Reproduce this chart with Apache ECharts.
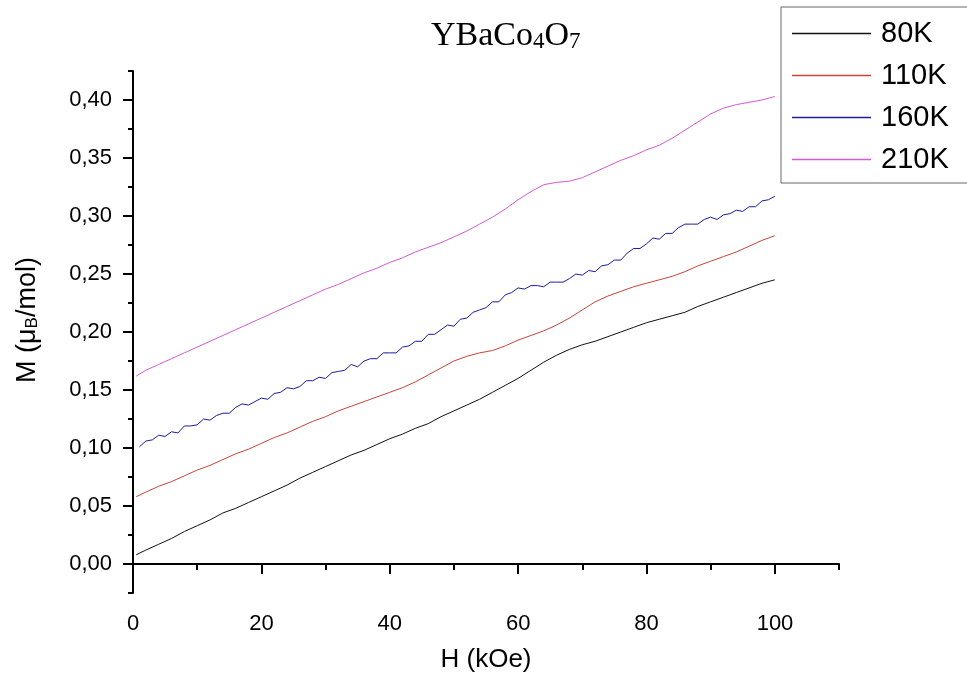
<!DOCTYPE html>
<html><head><meta charset="utf-8">
<script src="https://cdn.jsdelivr.net/npm/echarts@6/dist/echarts.min.js"></script>
<style>html,body{margin:0;padding:0;background:#fff}#c{width:967px;height:681px}</style>
</head><body><div id="c"></div>
<script>
// Field H (kOe) for the smooth curves
const H_SMOOTH = [0.5,2,4,6,8,10,12,14,16,18,20,22,24,26,28,30,32,34,36,38,40,42,44,46,48,50,52,54,56,58,60,62,64,66,68,70,72,74,76,78,80,82,84,86,88,90,92,94,96,98,100];
// Field H (kOe) for the noisy 160K curve
const H_160 = [1,2,3,4,5,6,7,8,9,10,11,12,13,14,15,16,17,18,19,20,21,22,23,24,25,26,27,28,29,30,31,32,33,34,35,36,37,38,39,40,41,42,43,44,45,46,47,48,49,50,51,52,53,54,55,56,57,58,59,60,61,62,63,64,65,66,67,68,69,70,71,72,73,74,75,76,77,78,79,80,81,82,83,84,85,86,87,88,89,90,91,92,93,94,95,96,97,98,99,100];

const M_80K = [0.008,0.012,0.017,0.022,0.028,0.033,0.038,0.044,0.048,0.053,0.058,0.063,0.068,0.074,0.079,0.084,0.089,0.094,0.098,0.103,0.108,0.112,0.117,0.121,0.127,0.132,0.137,0.142,0.148,0.154,0.160,0.167,0.174,0.180,0.185,0.189,0.192,0.196,0.200,0.204,0.208,0.211,0.214,0.217,0.222,0.226,0.230,0.234,0.238,0.242,0.245];
const M_110K = [0.058,0.062,0.067,0.071,0.076,0.081,0.085,0.090,0.095,0.099,0.104,0.109,0.113,0.118,0.123,0.127,0.132,0.136,0.140,0.144,0.148,0.152,0.157,0.163,0.169,0.175,0.179,0.182,0.184,0.188,0.193,0.197,0.201,0.206,0.212,0.219,0.226,0.231,0.235,0.239,0.242,0.245,0.248,0.252,0.257,0.261,0.265,0.269,0.274,0.279,0.283];
const M_160K = [0.101,0.106,0.107,0.111,0.110,0.114,0.113,0.119,0.119,0.120,0.125,0.124,0.128,0.130,0.130,0.135,0.138,0.137,0.140,0.143,0.142,0.147,0.148,0.152,0.151,0.153,0.158,0.158,0.161,0.160,0.165,0.166,0.167,0.172,0.170,0.175,0.177,0.177,0.182,0.182,0.182,0.187,0.188,0.192,0.192,0.198,0.198,0.202,0.206,0.205,0.211,0.212,0.217,0.219,0.221,0.226,0.226,0.232,0.234,0.238,0.237,0.240,0.240,0.239,0.243,0.243,0.243,0.246,0.250,0.249,0.253,0.252,0.257,0.258,0.262,0.262,0.268,0.272,0.272,0.276,0.281,0.280,0.285,0.285,0.290,0.293,0.293,0.293,0.297,0.299,0.297,0.301,0.302,0.305,0.304,0.308,0.308,0.313,0.314,0.317];
const M_210K = [0.162,0.167,0.172,0.177,0.182,0.187,0.192,0.197,0.202,0.207,0.212,0.217,0.222,0.227,0.232,0.237,0.241,0.246,0.251,0.255,0.260,0.264,0.269,0.273,0.277,0.282,0.287,0.293,0.299,0.306,0.314,0.321,0.327,0.329,0.330,0.333,0.338,0.343,0.348,0.352,0.357,0.361,0.367,0.374,0.381,0.388,0.393,0.396,0.398,0.400,0.403];

const SERIES_NAMES = ['80K','110K','160K','210K'];
const SERIES_COLORS = ['#111111','#c8443c','#1c1ca0','#d45ad4'];
const X_TICKS = [0,20,40,60,80,100];
const Y_TICKS = [0,0.05,0.10,0.15,0.20,0.25,0.30,0.35,0.40];

const FONT = 'Liberation Sans';
const zip = (xs, ys) => xs.map((x, i) => [x, ys[i]]);

const chart = echarts.init(document.getElementById('c'), null, {renderer: 'canvas'});
const lineAxis = {show: true, lineStyle: {color: '#000', width: 2}};
const DATA = [zip(H_SMOOTH, M_80K), zip(H_SMOOTH, M_110K), zip(H_160, M_160K), zip(H_SMOOTH, M_210K)];
chart.setOption({
  animation: false,
  backgroundColor: '#fff',
  title: {
    text: 'YBaCo{s|4}O{s|7}',
    left: 426, top: 14,
    textStyle: {
      fontFamily: 'Liberation Serif', fontSize: 34, fontWeight: 'normal', color: '#000',
      rich: {s: {fontFamily: 'Liberation Serif', fontSize: 23, color: '#000', verticalAlign: 'bottom', lineHeight: 23}}
    }
  },
  legend: {
    data: SERIES_NAMES.map(n => ({name: n, icon: 'rect'})),
    orient: 'vertical',
    left: 781, top: 7,
    itemWidth: 79, itemHeight: 1.5, itemGap: 13,
    padding: [12, 40, 9, 11],
    borderColor: '#666', borderWidth: 1,
    textStyle: {fontFamily: FONT, fontSize: 29, color: '#000', padding: [0, 0, 0, 5]}
  },
  grid: [
    {left: 133, top: 71, right: 128, bottom: 88, containLabel: false},
    {left: 133, top: 100, width: 642, height: 464, containLabel: false}
  ],
  xAxis: [
    {
      gridIndex: 0, type: 'value', min: 0, max: 110, interval: 10,
      axisLine: lineAxis,
      axisTick: {show: true, length: 6, lineStyle: {color: '#000', width: 2}},
      axisLabel: {show: false}, splitLine: {show: false},
      name: 'H (kOe)', nameLocation: 'middle', nameGap: 54,
      nameTextStyle: {fontFamily: FONT, fontSize: 26, color: '#000'}
    },
    {
      gridIndex: 1, type: 'value', min: X_TICKS[0], max: X_TICKS[X_TICKS.length - 1], interval: 20,
      offset: 29,
      axisLine: {show: false},
      axisTick: {show: true, length: 10, lineStyle: {color: '#000', width: 2}},
      axisLabel: {show: true, margin: 20, fontFamily: FONT, fontSize: 22, color: '#000'},
      splitLine: {show: false}
    }
  ],
  yAxis: [
    {
      gridIndex: 0, type: 'value', min: -0.025, max: 0.425, interval: 0.025,
      axisLine: lineAxis,
      axisTick: {show: true, length: 5, lineStyle: {color: '#000', width: 2}},
      axisLabel: {show: false}, splitLine: {show: false},
      name: 'M (μ{s|B}/mol)', nameLocation: 'middle', nameGap: 92,
      nameTextStyle: {
        fontFamily: FONT, fontSize: 27, color: '#000', padding: [0, 0, 0, 24],
        rich: {s: {fontFamily: FONT, fontSize: 17, color: '#000', verticalAlign: 'bottom', lineHeight: 17}}
      }
    },
    {
      gridIndex: 1, type: 'value', min: Y_TICKS[0], max: Y_TICKS[Y_TICKS.length - 1], interval: 0.05,
      axisLine: {show: false},
      axisTick: {show: true, length: 10, lineStyle: {color: '#000', width: 2}},
      axisLabel: {show: true, margin: 21, fontFamily: FONT, fontSize: 22, color: '#000',
        formatter: v => v.toFixed(2).replace('.', ',')},
      splitLine: {show: false}
    }
  ],
  series: SERIES_NAMES.map((n, i) => ({
    name: n, type: 'line', xAxisIndex: 0, yAxisIndex: 0, data: DATA[i],
    symbol: 'none', lineStyle: {width: 1, color: SERIES_COLORS[i]}, itemStyle: {color: SERIES_COLORS[i]}
  }))
});
</script></body></html>
